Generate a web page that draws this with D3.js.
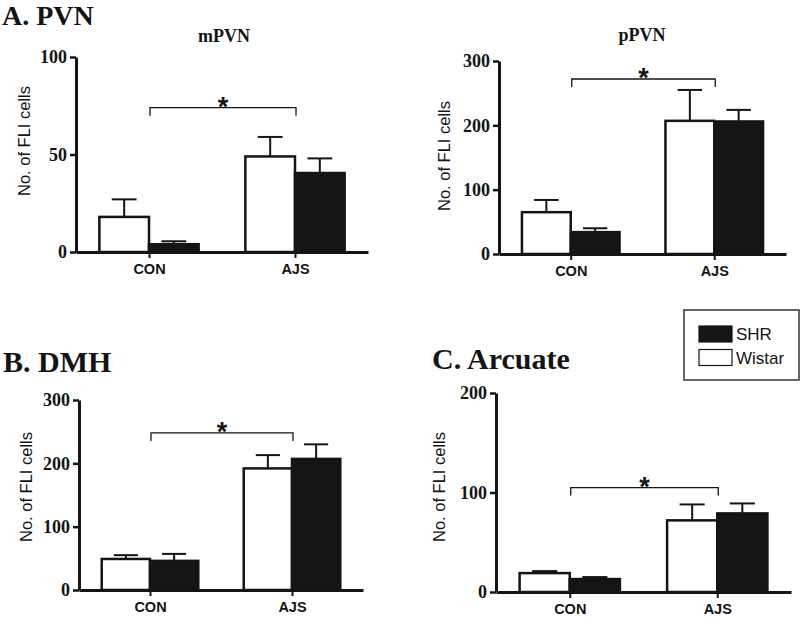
<!DOCTYPE html>
<html>
<head>
<meta charset="utf-8">
<script src="https://cdn.jsdelivr.net/npm/d3@7"></script>
<style>
  html, body { margin: 0; padding: 0; background: #fff; }
  svg { display: block; }
</style>
</head>
<body>
<svg id="chart" width="800" height="618"></svg>
<script>
// ---------------- DATA ----------------
const categories = ["CON", "AJS"];
const seriesNames = ["Wistar", "SHR"];
const regions = ["mPVN", "pPVN", "DMH", "Arcuate"];
const yMaxes = [100, 300, 300, 200];
const yTicks = [[0, 50, 100], [0, 100, 200, 300], [0, 100, 200, 300], [0, 100, 200]];
const wistarMeans = [[18, 49], [65, 207], [49, 192], [19, 72]];
const wistarSEM = [[9, 10], [19, 48], [6, 21], [2, 16]];
const shrMeans = [[4, 40.5], [34, 206], [46, 207], [13, 79]];
const shrSEM = [[1.5, 7.5], [6, 18], [11, 23], [2, 10]];
const bracketLevels = [74, 272, 248, 105];
const yAxisTitle = "No. of FLI cells";
const sectionTitles = ["A. PVN", "B. DMH", "C. Arcuate"];
const subTitles = ["mPVN", "pPVN"];
const legendLabels = ["SHR", "Wistar"];

// ---------------- LAYOUT ----------------
const layout = [
  { x0: 76,  x1: 368, yTop: 57,  yBot: 252, labX: 30,  labY: 141 },
  { x0: 499, x1: 786, yTop: 61,  yBot: 254, labX: 450, labY: 156 },
  { x0: 79,  x1: 363, yTop: 400, yBot: 590, labX: 32,  labY: 487 },
  { x0: 496, x1: 791, yTop: 393, yBot: 592, labX: 445, labY: 487 }
];
const SERIF = "'Liberation Serif', 'Times New Roman', serif";
const SANS = "'Liberation Sans', Arial, sans-serif";
const INK = "#141414";

const svg = d3.select("#chart");

// Section headings
const headPos = [[2, 25, 28], [3, 372, 30], [432, 369, 30]];
sectionTitles.forEach((t, i) => {
  svg.append("text")
    .attr("x", headPos[i][0]).attr("y", headPos[i][1])
    .attr("font-family", SERIF).attr("font-weight", "bold")
    .attr("font-size", headPos[i][2]).attr("fill", INK)
    .text(t);
});
// Sub titles
const subPos = [[224, 42], [642, 41]];
subTitles.forEach((t, i) => {
  svg.append("text")
    .attr("x", subPos[i][0]).attr("y", subPos[i][1])
    .attr("text-anchor", "middle")
    .attr("font-family", SERIF).attr("font-weight", "bold")
    .attr("font-size", 18).attr("fill", INK)
    .text(t);
});

regions.forEach((reg, p) => {
  const L = layout[p];
  const g = svg.append("g");
  const x = d3.scalePoint().domain(categories).range([L.x0, L.x1]).padding(0.5);
  const y = d3.scaleLinear().domain([0, yMaxes[p]]).range([L.yBot, L.yTop]);
  const bw = x.step() * 0.34;

  const rows = [];
  categories.forEach((c, ci) => {
    rows.push({ cat: c, s: "Wistar", v: wistarMeans[p][ci], e: wistarSEM[p][ci] });
    rows.push({ cat: c, s: "SHR", v: shrMeans[p][ci], e: shrSEM[p][ci] });
  });
  const bx = d => d.s === "Wistar" ? x(d.cat) - bw : x(d.cat);

  // error bars (upper only)
  const eb = g.selectAll(".eb").data(rows).join("g");
  eb.append("line")
    .attr("x1", d => bx(d) + bw / 2).attr("x2", d => bx(d) + bw / 2)
    .attr("y1", d => y(d.v)).attr("y2", d => y(d.v + d.e))
    .attr("stroke", INK).attr("stroke-width", 2);
  eb.append("line")
    .attr("x1", d => bx(d) + bw / 4).attr("x2", d => bx(d) + bw * 3 / 4)
    .attr("y1", d => y(d.v + d.e)).attr("y2", d => y(d.v + d.e))
    .attr("stroke", INK).attr("stroke-width", 2);

  // bars
  g.selectAll(".bar").data(rows).join("rect")
    .attr("x", bx)
    .attr("y", d => y(d.v))
    .attr("width", bw)
    .attr("height", d => y(0) - y(d.v))
    .attr("fill", d => d.s === "SHR" ? "#151515" : "#fff")
    .attr("stroke", INK).attr("stroke-width", 2.5);

  // Y axis
  const ya = g.append("g").attr("transform", `translate(${L.x0},0)`)
    .call(d3.axisLeft(y).tickValues(yTicks[p]).tickSize(6).tickPadding(3).tickSizeOuter(0));
  ya.select(".domain").attr("stroke", INK).attr("stroke-width", 3);
  ya.selectAll(".tick line").attr("stroke", INK).attr("stroke-width", 2.5);
  ya.selectAll(".tick text").attr("font-family", SERIF).attr("font-weight", "bold")
    .attr("font-size", 18).attr("fill", INK);

  // X axis
  const xa = g.append("g").attr("transform", `translate(0,${L.yBot})`)
    .call(d3.axisBottom(x).tickSize(6).tickPadding(6).tickSizeOuter(0));
  xa.select(".domain").attr("stroke", INK).attr("stroke-width", 3);
  xa.selectAll(".tick line").attr("stroke", INK).attr("stroke-width", 2);
  xa.selectAll(".tick text").attr("font-family", SANS).attr("font-weight", "bold")
    .attr("font-size", 14.5).attr("fill", INK);

  // Y axis title
  g.append("text")
    .attr("transform", `translate(${L.labX},${L.labY}) rotate(-90)`)
    .attr("text-anchor", "middle")
    .attr("font-family", SANS).attr("font-size", 16.5).attr("fill", INK)
    .text(yAxisTitle);

  // significance bracket
  const by = y(bracketLevels[p]);
  const bxa = x(categories[0]) + 1, bxb = x(categories[1]) + 1;
  g.append("path")
    .attr("d", `M${bxa},${by + 8}V${by}H${bxb}V${by + 8}`)
    .attr("fill", "none").attr("stroke", INK).attr("stroke-width", 1.3);
  g.append("text")
    .attr("x", (bxa + bxb) / 2).attr("y", by + 8)
    .attr("text-anchor", "middle")
    .attr("font-family", SANS).attr("font-weight", "bold")
    .attr("font-size", 27).attr("fill", INK)
    .text("*");
});

// Legend
const lg = svg.append("g");
lg.append("rect").attr("x", 684).attr("y", 310).attr("width", 115).attr("height", 70)
  .attr("fill", "#fff").attr("stroke", "#333").attr("stroke-width", 1.5);
legendLabels.forEach((lab, i) => {
  lg.append("rect")
    .attr("x", 699).attr("y", 326 + i * 23.5).attr("width", 33).attr("height", 16)
    .attr("fill", lab === "SHR" ? "#151515" : "#fff")
    .attr("stroke", INK).attr("stroke-width", 1.2);
  lg.append("text")
    .attr("x", 736).attr("y", 340 + i * 24)
    .attr("font-family", SANS).attr("font-size", 17).attr("fill", INK)
    .text(lab);
});
</script>
</body>
</html>
